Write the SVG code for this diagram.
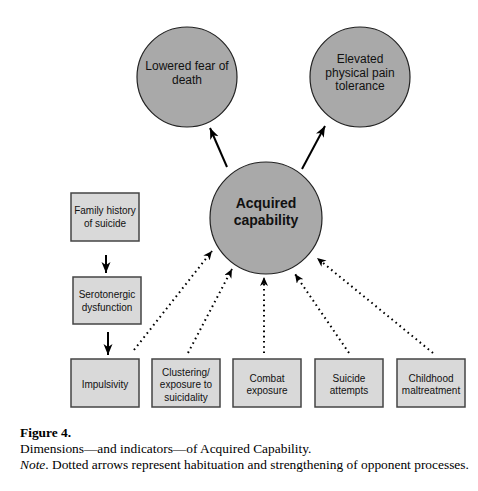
<svg xmlns="http://www.w3.org/2000/svg" width="478" height="491" viewBox="0 0 478 491">
<style>
.circ{fill:#a9a9a9;stroke:#222;stroke-width:1.2}
.box{fill:#d9d9d9;stroke:#444;stroke-width:1.5}
.ct{font-family:"Liberation Sans",Arial,sans-serif;font-size:12px;fill:#111;text-anchor:middle}
.bt{font-family:"Liberation Sans",Arial,sans-serif;font-size:10px;fill:#111;text-anchor:middle}
.big{font-family:"Liberation Sans",Arial,sans-serif;font-size:14px;font-weight:bold;fill:#111;text-anchor:middle}
.solid{stroke:#000;stroke-width:2;fill:none}
.dot{stroke:#000;stroke-width:2;fill:none;stroke-dasharray:1.6 3.6}
.cap{font-family:"Liberation Serif","Times New Roman",serif;font-size:13.4px;fill:#000}
</style>
<defs>
<marker id="ah" markerWidth="12" markerHeight="10" refX="11" refY="4.5" orient="auto" markerUnits="userSpaceOnUse">
<path d="M0,0 L11,4.5 L0,9 L3,4.5 z" fill="#000"/>
</marker>
<marker id="ahs" markerWidth="10" markerHeight="9" refX="9" refY="4" orient="auto" markerUnits="userSpaceOnUse">
<path d="M0,0 L9,4 L0,8 L2.5,4 z" fill="#000"/>
</marker>
</defs>
<rect width="478" height="491" fill="#fff"/>
<g id="connectors">
<line class="solid" x1="227" y1="167" x2="210" y2="128" marker-end="url(#ah)"/>
<line class="solid" x1="302" y1="169" x2="325" y2="126" marker-end="url(#ah)"/>
<line class="solid" x1="106" y1="255" x2="106" y2="273" marker-end="url(#ah)"/>
<line class="solid" x1="108" y1="332" x2="108" y2="355" marker-end="url(#ah)"/>
<line class="dot" x1="134" y1="350" x2="212" y2="251" marker-end="url(#ahs)"/>
<line class="dot" x1="188" y1="353" x2="232" y2="269" marker-end="url(#ahs)"/>
<line class="dot" x1="264" y1="353" x2="264" y2="277" marker-end="url(#ahs)"/>
<line class="dot" x1="349" y1="353" x2="295" y2="274" marker-end="url(#ahs)"/>
<line class="dot" x1="433" y1="353" x2="317" y2="258" marker-end="url(#ahs)"/>
</g>
<g id="fear">
<circle class="circ" cx="187" cy="77" r="50"/>
<text class="ct" x="187" y="70">Lowered fear of</text>
<text class="ct" x="187" y="84">death</text>
</g>
<g id="pain">
<circle class="circ" cx="360" cy="77" r="50"/>
<text class="ct" x="360" y="63">Elevated</text>
<text class="ct" x="360" y="77">physical pain</text>
<text class="ct" x="360" y="90">tolerance</text>
</g>
<g id="capability">
<circle class="circ" cx="266" cy="218" r="56"/>
<text class="big" x="266" y="208">Acquired</text>
<text class="big" x="266" y="225">capability</text>
</g>
<g id="family">
<rect class="box" x="71" y="193" width="68" height="48"/>
<text class="bt" x="105" y="214">Family history</text>
<text class="bt" x="105" y="227">of suicide</text>
</g>
<g id="serotonergic">
<rect class="box" x="73" y="277" width="68" height="47"/>
<text class="bt" x="107" y="298">Serotonergic</text>
<text class="bt" x="107" y="311">dysfunction</text>
</g>
<g id="impulsivity">
<rect class="box" x="71" y="359" width="68" height="48"/>
<text class="bt" x="105" y="388">Impulsivity</text>
</g>
<g id="clustering">
<rect class="box" x="152" y="359" width="68" height="48"/>
<text class="bt" x="186" y="376">Clustering/</text>
<text class="bt" x="186" y="388">exposure to</text>
<text class="bt" x="186" y="401">suicidality</text>
</g>
<g id="combat">
<rect class="box" x="233" y="359" width="68" height="48"/>
<text class="bt" x="267" y="382">Combat</text>
<text class="bt" x="267" y="394">exposure</text>
</g>
<g id="attempts">
<rect class="box" x="315" y="359" width="68" height="48"/>
<text class="bt" x="349" y="382">Suicide</text>
<text class="bt" x="349" y="394">attempts</text>
</g>
<g id="childhood">
<rect class="box" x="397" y="359" width="68" height="48"/>
<text class="bt" x="431" y="382">Childhood</text>
<text class="bt" x="431" y="394">maltreatment</text>
</g>
<g id="caption">
<text class="cap" x="20" y="437" font-weight="bold">Figure 4.</text>
<text class="cap" x="20" y="453">Dimensions—and indicators—of Acquired Capability.</text>
<text class="cap" x="20" y="469"><tspan font-style="italic">Note</tspan>. Dotted arrows represent habituation and strengthening of opponent processes.</text>
</g>
</svg>
